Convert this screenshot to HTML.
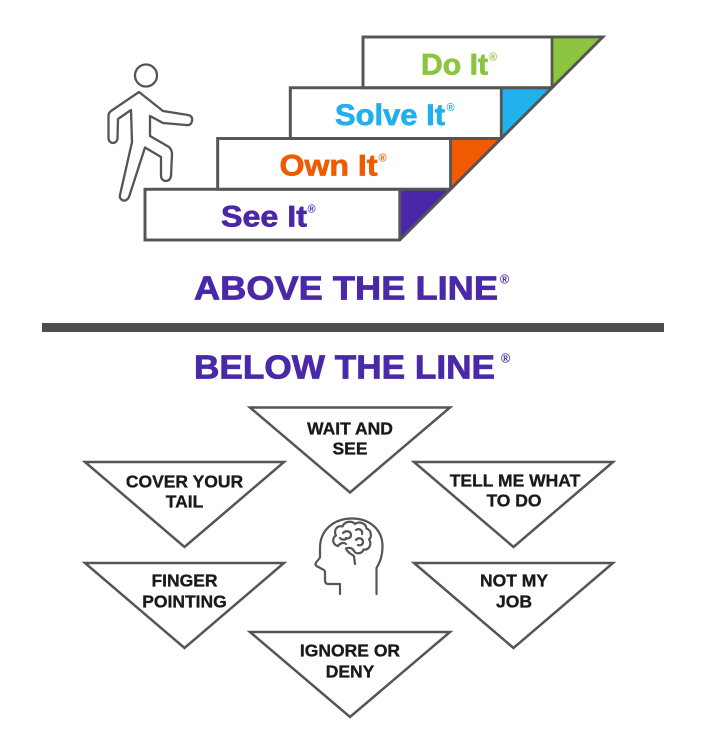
<!DOCTYPE html>
<html>
<head>
<meta charset="utf-8">
<style>
  html, body { margin: 0; padding: 0; background: #ffffff; }
  svg { display: block; }
  .step { font-family: "Liberation Sans", Arial, sans-serif; font-weight: bold; font-size: 30px; stroke-width: 0.7; }
  .reg { font-family: "Liberation Sans", Arial, sans-serif; font-weight: bold; }
  .head { font-family: "Liberation Sans", Arial, sans-serif; font-weight: bold; font-size: 33.5px; fill: #4b28a8; stroke: #4b28a8; stroke-width: 0.8; }
  .tri { font-family: "Liberation Sans", Arial, sans-serif; font-weight: bold; font-size: 17.5px; fill: #1a1a1a; stroke: #1a1a1a; stroke-width: 0.35; text-anchor: middle; }
</style>
</head>
<body>
<svg width="710" height="743" viewBox="0 0 710 743" xmlns="http://www.w3.org/2000/svg">
  <rect x="0" y="0" width="710" height="743" fill="#ffffff"/>

  <!-- Stairs -->
  <g stroke="#555555" stroke-width="2.8" stroke-linejoin="miter">
    <polygon points="145,189.25 450.5,189.25 399.75,240 145,240" fill="#ffffff"/>
    <polygon points="399.75,189.25 450.5,189.25 399.75,240" fill="#4a27a8" stroke="none"/>
    <polygon points="217.7,138.5 501.25,138.5 450.5,189.25 217.7,189.25" fill="#ffffff"/>
    <polygon points="450.5,138.5 501.25,138.5 450.5,189.25" fill="#f05a00" stroke="none"/>
    <polygon points="290.3,87.75 552,87.75 501.25,138.5 290.3,138.5" fill="#ffffff"/>
    <polygon points="501.25,87.75 552,87.75 501.25,138.5" fill="#20b0ec" stroke="none"/>
    <polygon points="363,37 602.75,37 552,87.75 363,87.75" fill="#ffffff"/>
    <polygon points="552,37 602.75,37 552,87.75" fill="#8cc43f" stroke="none"/>

    <g fill="none">
      <polygon points="145,189.25 450.5,189.25 399.75,240 145,240"/>
      <polygon points="217.7,138.5 501.25,138.5 450.5,189.25 217.7,189.25"/>
      <polygon points="290.3,87.75 552,87.75 501.25,138.5 290.3,138.5"/>
      <polygon points="363,37 602.75,37 552,87.75 363,87.75"/>
      <line x1="399.75" y1="189.25" x2="399.75" y2="240"/>
      <line x1="450.5" y1="138.5" x2="450.5" y2="189.25"/>
      <line x1="501.25" y1="87.75" x2="501.25" y2="138.5"/>
      <line x1="552" y1="37" x2="552" y2="87.75"/>
    </g>
  </g>

  <!-- Step labels -->
  <text class="step" x="421" y="74.5" fill="#8cc43f" stroke="#8cc43f" textLength="67" lengthAdjust="spacingAndGlyphs">Do It</text>
  <text class="reg" x="489" y="60.5" font-size="11" fill="#8cc43f">®</text>

  <text class="step" x="335" y="125" fill="#20b0ec" stroke="#20b0ec" textLength="110" lengthAdjust="spacingAndGlyphs">Solve It</text>
  <text class="reg" x="446.5" y="111" font-size="11" fill="#20b0ec">®</text>

  <text class="step" x="279.5" y="175.5" fill="#f05a00" stroke="#f05a00" textLength="98" lengthAdjust="spacingAndGlyphs">Own It</text>
  <text class="reg" x="378.5" y="161.5" font-size="11" fill="#f05a00">®</text>

  <text class="step" x="221" y="226.5" fill="#4a27a8" stroke="#4a27a8" textLength="86" lengthAdjust="spacingAndGlyphs">See It</text>
  <text class="reg" x="307.5" y="212.5" font-size="11" fill="#4a27a8">®</text>

  <!-- Walking person -->
  <g fill="none" stroke="#555555" stroke-width="2.3" stroke-linejoin="round" stroke-linecap="round">
    <circle cx="146" cy="75.5" r="11"/>
    <path d="M139,92 L163,111 L188,115 Q193,116 192,121 Q191,126 186,125 L163,123 L150,116 L150,136 L169,147 Q172,150 172,154 L171,176 Q170,181 165.5,181 Q161,180 161,176 L161,157 L145,147.5 L129,197 Q127,201 123,200.5 Q119,198.5 120,195 L132,142 L131,110 L118,119 L117.5,139 Q116.5,143 112.5,143 Q108.5,142 108.5,138 L108.5,116 Q108.5,113 111,111 Z"/>
  </g>

  <!-- Headings -->
  <text class="head" x="194" y="299.5" textLength="304" lengthAdjust="spacingAndGlyphs">ABOVE THE LINE</text>
  <text class="reg" x="500" y="283.5" font-size="12.5" fill="#4b28a8">®</text>

  <rect x="42" y="323" width="622" height="9" fill="#4d4d4d"/>

  <text class="head" x="194" y="378.5" textLength="301" lengthAdjust="spacingAndGlyphs">BELOW THE LINE</text>
  <text class="reg" x="501" y="362.5" font-size="12.5" fill="#4b28a8">®</text>

  <!-- Triangles -->
  <g fill="#ffffff" stroke="#555555" stroke-width="2.5" stroke-linejoin="miter">
    <polygon points="250,407.5 450,407.5 350,492.5"/>
    <polygon points="85,462 284,462 184.5,547"/>
    <polygon points="414,462 613,462 513.5,547"/>
    <polygon points="85,563 284,563 184.5,648"/>
    <polygon points="414,563 613,563 513.5,648"/>
    <polygon points="250,632 450,632 350,717"/>
  </g>

  <text class="tri" x="350" y="434.3">WAIT AND</text>
  <text class="tri" x="350" y="454.3">SEE</text>

  <text class="tri" x="184.5" y="487.3">COVER YOUR</text>
  <text class="tri" x="184.5" y="507.3">TAIL</text>

  <text class="tri" x="515" y="486.5">TELL ME WHAT</text>
  <text class="tri" x="514" y="506.5">TO DO</text>

  <text class="tri" x="184.5" y="586.7">FINGER</text>
  <text class="tri" x="184.5" y="607.3">POINTING</text>

  <text class="tri" x="514" y="586.7">NOT MY</text>
  <text class="tri" x="514" y="607.3">JOB</text>

  <text class="tri" x="350" y="656.7">IGNORE OR</text>
  <text class="tri" x="350" y="677.3">DENY</text>

  <!-- Head with brain icon -->
  <g fill="none" stroke="#555555" stroke-width="2.2" stroke-linejoin="round" stroke-linecap="round">
    <path d="M340,594 L340,584 L328,584 Q325,584 325,580 L325,572 Q325,570 322,569 L316.5,566 Q314.5,564 316.5,562 L320,557.5 L320,548 C320,529 335,518.5 352,518.5 C370,518.5 382.5,530 382.5,546 C382.5,556 380,562 376.5,568 L376.5,594"/>
    <path d="M338,546 C332.5,545 331.5,538 336,535.5 C333,530 337.5,525 342.5,526.5 C344.5,521 352,520.5 355,524 C359,521 366,523 366.5,528.5 C371.5,530 372,537 369,539.5 C372,543.5 369.5,550.5 363.5,549.5 C362,554 356,554.5 354,551"/>
    <path d="M354,551 C352.5,548 349,547 346,548.5 C347,552 351,554 354,556 L355,564"/>
    <path d="M338,546 C340,543 344,542 346,544"/>
    <path d="M343,533 C346,530 351,531 351,535 C351,538 348,539 346,538"/>
    <path d="M356,530 C359,528 363,530 362,534"/>
    <path d="M356,540 C358,537 363,538 363,542 C363,545 360,546 358,545"/>
    <path d="M340,538 C342,540 344,540 346,539"/>
  </g>
</svg>
</body>
</html>
